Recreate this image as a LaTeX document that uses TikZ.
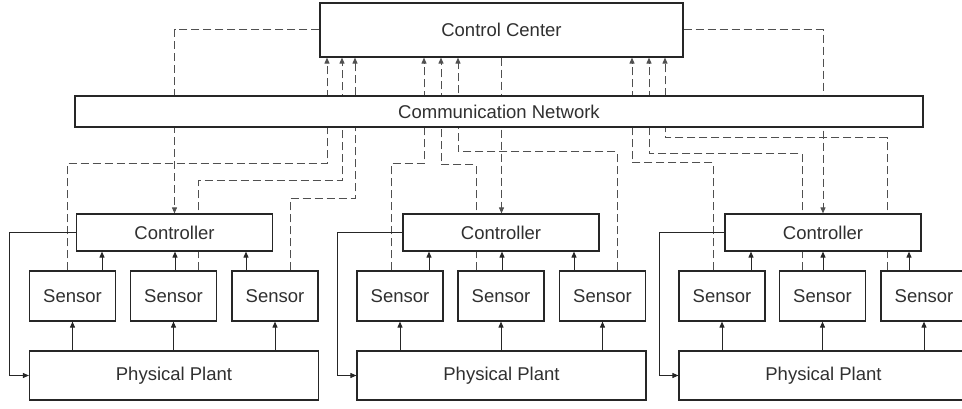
\documentclass[tikz,border=0pt]{standalone}
\usepackage{fontspec}
\setmainfont{Liberation Sans}
\usepackage{xcolor}
\usepackage{tikz}
\usetikzlibrary{arrows.meta, backgrounds}
\definecolor{linegray}{HTML}{505050}
\definecolor{textgray}{HTML}{303030}
\tikzset{
  box/.style={rectangle, draw=black!85, line width=1.2pt, fill=white, inner sep=0pt,
    text=textgray, font=\fontsize{18.5}{22}\selectfont},
  sensorbox/.style={box, minimum width=86pt, minimum height=50pt},
  plantbox/.style={box, minimum width=289pt, minimum height=49pt},
  ctlbox/.style={box, minimum width=196pt, minimum height=37pt},
  arr/.style={-{Triangle[length=6pt,width=5pt]}, line width=1pt, draw=black!85},
  dline/.style={arr, draw=linegray, dash pattern=on 8pt off 4pt}
}

\begin{document}
\begin{tikzpicture}[x=1pt, y=-1pt]
        \useasboundingbox (0,0) rectangle (962,409);

        \node[box, minimum width=363pt, minimum height=54pt] (cc) at (501.5, 30) {Control Center};

        \node[ctlbox] (ctl1) at (174.5, 232.5) {Controller};
        \node[ctlbox] (ctl2) at (501, 232.5) {Controller};
        \node[ctlbox] (ctl3) at (823, 232.5) {Controller};

        \node[sensorbox] (s11) at (72.5, 296) {Sensor};
        \node[sensorbox] (s12) at (173.5, 296) {Sensor};
        \node[sensorbox] (s13) at (275, 296) {Sensor};
        \node[sensorbox] (s21) at (400, 296) {Sensor};
        \node[sensorbox] (s22) at (501, 296) {Sensor};
        \node[sensorbox] (s23) at (602.5, 296) {Sensor};
        \node[sensorbox] (s31) at (722, 296) {Sensor};
        \node[sensorbox] (s32) at (822.5, 296) {Sensor};
        \node[sensorbox] (s33) at (924, 296) {Sensor};

        \node[plantbox] (pp1) at (174, 375.5) {Physical Plant};
        \node[plantbox] (pp2) at (501.5, 375.5) {Physical Plant};
        \node[plantbox] (pp3) at (823.5, 375.5) {Physical Plant};

        % dashed links, behind the boxes
        \begin{pgfonlayer}{background}
          \draw[dline] (cc.west) -| (ctl1.north);
          \draw[dline] (cc.east) -| (ctl3.north);
          \draw[dline] (cc.south) -- (cc.south |- ctl2.north);

          \foreach \s/\dx/\y/\x in {
            s11/-5.5/164/327, s12/24.5/181/342, s13/15/199/355,
            s21/-9/164/424, s22/-25/165/441, s23/14.5/152/458,
            s31/-9/163/632, s32/-20.5/154/649, s33/-37/138/665}
          \draw[dline] ([xshift=\dx pt]\s.north) |- (\x,\y) -- (\x,0 |- cc.south);
        \end{pgfonlayer}

        \node[box, minimum width=848pt, minimum height=31pt] (net) at (499, 111.5) {Communication Network};

        % sensors to controllers
        \foreach \s/\c/\dx in {
          s11/ctl1/29.5, s12/ctl1/1.5, s13/ctl1/-29,
          s21/ctl2/29, s22/ctl2/1, s23/ctl2/-28.5,
          s31/ctl3/29, s32/ctl3/0.5, s33/ctl3/-15}
        \draw[arr] ([xshift=\dx pt]\s.north) -- ([xshift=\dx pt]\s.north |- \c.south);

        % plants to sensors
        \foreach \p/\s in {
          pp1/s11, pp1/s12, pp1/s13,
          pp2/s21, pp2/s22, pp2/s23,
          pp3/s31, pp3/s32, pp3/s33}
        \draw[arr] (\s.south |- \p.north) -- (\s.south);

        % controllers back to plants
        \foreach \c/\p/\dx in {ctl1/pp1/-66, ctl2/pp2/-65, ctl3/pp3/-65}
        \draw[arr] (\c.west) -- ++(\dx,0) |- (\p.west);
      \end{tikzpicture}
\end{document}
